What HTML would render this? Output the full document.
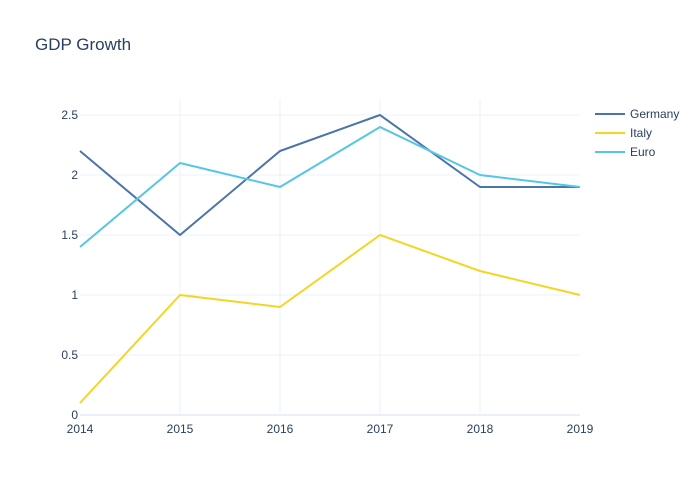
<!DOCTYPE html>
<html><head><meta charset="utf-8"><style>
html,body{margin:0;padding:0;background:#fff;}
svg{display:block;font-family:"Liberation Sans",sans-serif;}
</style></head><body>
<svg width="700" height="500" viewBox="0 0 700 500" xmlns="http://www.w3.org/2000/svg">
<rect width="700" height="500" fill="#fff"/>
<g stroke="#ebf0f8" stroke-width="1">
<line x1="180" y1="100" x2="180" y2="415"/>
<line x1="280" y1="100" x2="280" y2="415"/>
<line x1="380" y1="100" x2="380" y2="415"/>
<line x1="480" y1="100" x2="480" y2="415"/>
<line x1="80" y1="115" x2="580" y2="115"/>
<line x1="80" y1="175" x2="580" y2="175"/>
<line x1="80" y1="235" x2="580" y2="235"/>
<line x1="80" y1="295" x2="580" y2="295"/>
<line x1="80" y1="355" x2="580" y2="355"/>
</g>
<line x1="80" y1="415" x2="580" y2="415" stroke="#ebf0f8" stroke-width="2"/>
<g fill="none" stroke-width="2" stroke-linejoin="round">
<polyline stroke="#4b74a8" points="80,151 180,235 280,151 380,115 480,187 580,187"/>
<polyline stroke="#f3d623" points="80,403 180,295 280,307 380,235 480,271 580,295"/>
<polyline stroke="#55c6e6" points="80,247 180,163 280,187 380,127 480,175 580,187"/>
</g>
<g fill="#2a3f5f" font-size="12" text-anchor="end">
<text x="78" y="119">2.5</text>
<text x="78" y="179">2</text>
<text x="78" y="239">1.5</text>
<text x="78" y="299">1</text>
<text x="78" y="359">0.5</text>
<text x="78" y="419">0</text>
</g>
<g fill="#2a3f5f" font-size="12" text-anchor="middle">
<text x="80" y="433">2014</text>
<text x="180" y="433">2015</text>
<text x="280" y="433">2016</text>
<text x="380" y="433">2017</text>
<text x="480" y="433">2018</text>
<text x="580" y="433">2019</text>
</g>
<text x="35" y="50" fill="#2a3f5f" font-size="17">GDP Growth</text>
<g stroke-width="2">
<line x1="595" y1="114" x2="625" y2="114" stroke="#4b74a8"/>
<line x1="595" y1="133" x2="625" y2="133" stroke="#f3d623"/>
<line x1="595" y1="152" x2="625" y2="152" stroke="#55c6e6"/>
</g>
<g fill="#2a3f5f" font-size="12">
<text x="630" y="118">Germany</text>
<text x="630" y="137">Italy</text>
<text x="630" y="156">Euro</text>
</g>
</svg>
</body></html>
